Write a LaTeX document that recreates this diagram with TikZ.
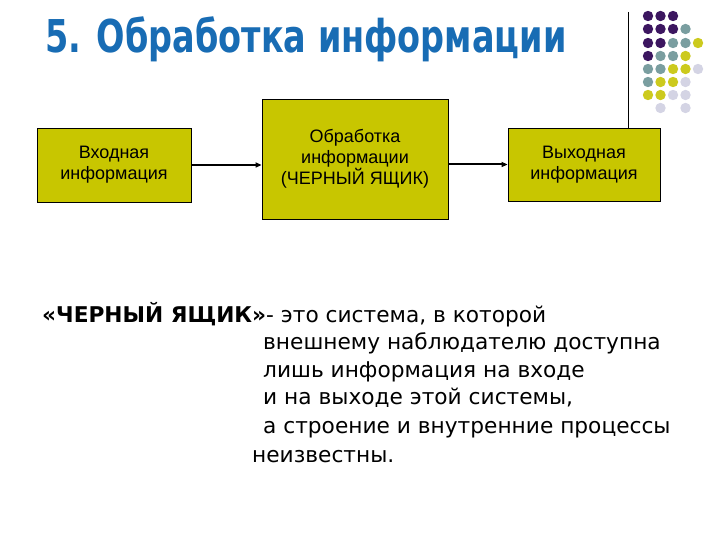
\documentclass[tikz,border=0pt]{standalone}
\usepackage{fontspec}
\setmainfont{Liberation Sans}
\newfontfamily\comicfont{DejaVu Sans}
\usetikzlibrary{arrows.meta}

\definecolor{boxfill}{RGB}{200,198,0}
\definecolor{titleblue}{RGB}{24,108,180}
\definecolor{dotP}{RGB}{60,22,96}
\definecolor{dotT}{RGB}{122,158,160}
\definecolor{dotY}{RGB}{204,202,30}
\definecolor{dotG}{RGB}{212,212,228}

\tikzset{
  blk/.style={draw,fill=boxfill,line width=0.8pt,align=center,inner sep=0pt,
    font=\fontsize{18}{21}\selectfont},
  txt/.style={anchor=base west,inner sep=0pt,font=\comicfont\fontsize{21.7}{26}\selectfont},
  arr/.style={-{Triangle[length=6pt,width=5pt]},line width=2pt}
}

\begin{document}
\begin{tikzpicture}[x=1pt,y=-1pt]
\useasboundingbox (0,0) rectangle (720,540);

\node[anchor=base west,inner sep=0pt,text=titleblue,
  font=\comicfont\bfseries\fontsize{34}{40}\selectfont] (title) at (45,53)
  {\scalebox{0.985}[1.33]{5. Обработка информации}};

\foreach \c [count=\i from 0] in {P,P,P} \fill[dot\c] ({648+12.5*\i},16) circle (5.2pt);
\foreach \c [count=\i from 0] in {P,P,P,T} \fill[dot\c] ({648+12.5*\i},29) circle (5.2pt);
\foreach \c [count=\i from 0] in {P,P,T,T,Y} \fill[dot\c] ({648+12.5*\i},43) circle (5.2pt);
\foreach \c [count=\i from 0] in {P,T,T,Y} \fill[dot\c] ({648+12.5*\i},56) circle (5.2pt);
\foreach \c [count=\i from 0] in {T,T,Y,Y,G} \fill[dot\c] ({648+12.5*\i},69) circle (5.2pt);
\foreach \c [count=\i from 0] in {T,Y,Y,G} \fill[dot\c] ({648+12.5*\i},82) circle (5.2pt);
\foreach \c [count=\i from 0] in {Y,Y,G,G} \fill[dot\c] ({648+12.5*\i},95) circle (5.2pt);
\fill[dotG] (660.5,108) circle (5.2pt);
\fill[dotG] (685.5,108) circle (5.2pt);

\node[blk,minimum width=154pt,minimum height=74pt] (inp) at (114,165) {Входная\\информация};
\node[blk,minimum width=186pt,minimum height=120pt] (bb) at (355,159) {Обработка\\информации\\(ЧЕРНЫЙ ЯЩИК)};
\node[blk,minimum width=152pt,minimum height=73pt] (outp) at (584,164.5) {Выходная\\информация};

\coordinate (ln) at (628,12);
\draw[line width=1pt] (ln) -- (ln |- outp.north);

\draw[arr] (inp) -- (inp -| bb.west);
\draw[arr] (bb.east |- outp) -- (outp);

\node[txt] (l1) at (42,322) {{\bfseries «ЧЕРНЫЙ ЯЩИК»}- это система, в которой};
\node[txt] (l2) at (263,349) {внешнему наблюдателю доступна};
\node[txt] (l3) at (263,377) {лишь информация на входе};
\node[txt] (l4) at (263,404) {и на выходе этой системы,};
\node[txt] (l5) at (263,433) {а строение и внутренние процессы};
\node[txt] (l6) at (252,462) {неизвестны.};

\end{tikzpicture}
\end{document}
